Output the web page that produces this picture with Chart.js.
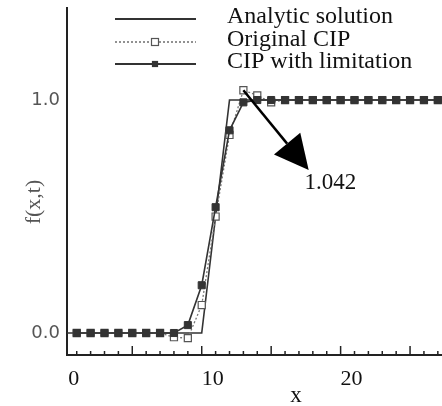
<!DOCTYPE html>
<html>
<head>
<meta charset="utf-8">
<script src="https://cdn.jsdelivr.net/npm/chart.js@4.4.1/dist/chart.umd.min.js"></script>
<style>
  html, body { margin: 0; padding: 0; background: #fff; }
  #wrap { width: 442px; height: 406px; }
</style>
</head>
<body>
<div id="wrap"><canvas id="chart"></canvas></div>
<script>
// grid positions (x)
const xs = [1, 2, 3, 4, 5, 6, 7, 8, 9, 10, 11, 12, 13, 14, 15, 16, 17, 18, 19, 20, 21, 22, 23, 24, 25, 26, 27];

const originalCIP = [0, 0, 0, 0, 0, 0, 0, -0.018, -0.022, 0.12, 0.50, 0.85, 1.042, 1.02, 0.99, 1, 1, 1, 1, 1, 1, 1, 1, 1, 1, 1, 1];
const limitedCIP = [0, 0, 0, 0, 0, 0, 0, 0, 0.034, 0.205, 0.54, 0.87, 0.99, 1, 1, 1, 1, 1, 1, 1, 1, 1, 1, 1, 1, 1, 1];

// analytic solution corners
const analyticX = [0, 10, 12, 28];
const analyticY = [0, 0, 1, 1];

const xTickLabels = [0, 10, 20];
const yTickLabels = [0, 1];

const seriesNames = ["Analytic solution", "Original CIP", "CIP with limitation"];

// arrow annotation pointing at the overshoot
const peakLabel = "1.042";
const arrowFrom = [13, 1.042];
const arrowTo = [17.7, 0.70];
const peakTextAt = [17.4, 0.643];

const toPts = (xx, yy) => xx.map((x, i) => ({x: x, y: yy[i]}));

const serif = "'Liberation Serif', 'Times New Roman', serif";

const extras = {
    id: 'extras',
    afterDraw: (chart) => {
        const {ctx, scales: {x, y}, chartArea} = chart;
        ctx.save();

        // inward ticks on the x axis
        ctx.strokeStyle = '#222';
        ctx.lineWidth = 1.5;
        for (let v = 1; v <= 27; v++) {
            const px = x.getPixelForValue(v);
            const len = v % 5 === 0 ? 9 : 4;
            ctx.beginPath();
            ctx.moveTo(px, chartArea.bottom);
            ctx.lineTo(px, chartArea.bottom - len);
            ctx.stroke();
        }

        // arrow
        const x1 = x.getPixelForValue(arrowFrom[0]), y1 = y.getPixelForValue(arrowFrom[1]);
        const x2 = x.getPixelForValue(arrowTo[0]), y2 = y.getPixelForValue(arrowTo[1]);
        const ang = Math.atan2(y2 - y1, x2 - x1);
        const headLen = 34, headW = 17;
        const bx = x2 - headLen * Math.cos(ang), by = y2 - headLen * Math.sin(ang);
        ctx.strokeStyle = '#000';
        ctx.lineWidth = 2.5;
        ctx.beginPath();
        ctx.moveTo(x1, y1);
        ctx.lineTo(bx, by);
        ctx.stroke();
        ctx.fillStyle = '#000';
        ctx.beginPath();
        ctx.moveTo(x2, y2);
        ctx.lineTo(bx + headW * Math.sin(ang), by - headW * Math.cos(ang));
        ctx.lineTo(bx - headW * Math.sin(ang), by + headW * Math.cos(ang));
        ctx.closePath();
        ctx.fill();

        ctx.font = '23px ' + serif;
        ctx.fillStyle = '#111';
        ctx.textAlign = 'left';
        ctx.textBaseline = 'middle';
        ctx.fillText(peakLabel, x.getPixelForValue(peakTextAt[0]), y.getPixelForValue(peakTextAt[1]));

        // legend
        const rows = [19, 42, 64];
        chart.data.datasets.forEach((ds, i) => {
            const yy = rows[i];
            ctx.strokeStyle = ds.borderColor;
            ctx.lineWidth = ds.borderWidth + 0.3;
            ctx.setLineDash(ds.borderDash || []);
            ctx.beginPath();
            ctx.moveTo(115, yy);
            ctx.lineTo(196, yy);
            ctx.stroke();
            ctx.setLineDash([]);
            if (ds.pointRadius > 0) {
                const s = i === 1 ? 7 : 5;
                ctx.fillStyle = ds.pointBackgroundColor;
                ctx.strokeStyle = ds.pointBorderColor;
                ctx.lineWidth = 1.2;
                ctx.fillRect(155 - s / 2, yy - s / 2, s, s);
                ctx.strokeRect(155 - s / 2, yy - s / 2, s, s);
            }
            ctx.fillStyle = '#111';
            ctx.font = '24px ' + serif;
            ctx.textAlign = 'left';
            ctx.textBaseline = 'middle';
            ctx.fillText(ds.label, 227, yy - 2);
        });

        // axis titles
        ctx.fillStyle = '#111';
        ctx.font = '23px ' + serif;
        ctx.textAlign = 'center';
        ctx.fillText('x', 296, 396);
        ctx.save();
        ctx.translate(34, 202);
        ctx.rotate(-Math.PI / 2);
        ctx.fillStyle = '#555';
        ctx.font = '22px ' + serif;
        ctx.fillText('f(x,t)', 0, 0);
        ctx.restore();

        ctx.restore();
    }
};

new Chart("chart", {
    type: "line",
    data: {
        datasets: [
            {
                label: seriesNames[0],
                data: toPts(analyticX, analyticY),
                borderColor: '#333',
                borderWidth: 1.6,
                pointRadius: 0,
                order: 2
            },
            {
                label: seriesNames[1],
                data: toPts(xs, originalCIP),
                borderColor: '#777',
                borderWidth: 1.3,
                borderDash: [2, 2],
                pointStyle: 'rect',
                pointRadius: 5,
                pointBackgroundColor: '#fff',
                pointBorderColor: '#555',
                pointBorderWidth: 1.2,
                order: 1
            },
            {
                label: seriesNames[2],
                data: toPts(xs, limitedCIP),
                borderColor: '#333',
                borderWidth: 1.6,
                pointStyle: 'rect',
                pointRadius: 5,
                pointBackgroundColor: '#333',
                pointBorderColor: '#333',
                pointBorderWidth: 1,
                order: 0
            }
        ]
    },
    options: {
        responsive: true,
        maintainAspectRatio: false,
        animation: false,
        layout: {autoPadding: false, padding: {top: 8, right: 0, left: 0, bottom: 0}},
        plugins: {
            legend: {display: false},
            tooltip: {enabled: false}
        },
        scales: {
            x: {
                type: 'linear',
                min: 0.3,
                max: 27.3,
                grid: {display: false, drawTicks: false},
                border: {display: true, color: '#222', width: 2},
                afterBuildTicks: (s) => { s.ticks = xTickLabels.map(v => ({value: v})); },
                afterFit: (s) => {
                    s.height = 51;
                    s.paddingLeft = 0;
                    s.paddingRight = 0;
                },
                ticks: {
                    color: '#111',
                    padding: 11,
                    labelOffset: 11,
                    maxRotation: 0,
                    font: {family: serif, size: 22}
                }
            },
            y: {
                type: 'linear',
                min: -0.0944,
                max: 1.395,
                grid: {display: false, drawTicks: false},
                border: {display: true, color: '#222', width: 2},
                afterBuildTicks: (s) => { s.ticks = yTickLabels.map(v => ({value: v})); },
                afterFit: (s) => {
                    s.width = 67;
                    s.paddingTop = 0;
                    s.paddingBottom = 0;
                },
                ticks: {
                    color: '#555',
                    padding: 7,
                    font: {family: "'DejaVu Sans', sans-serif", size: 18},
                    callback: (v) => Number(v).toFixed(1)
                }
            }
        }
    },
    plugins: [extras]
});
</script>
</body>
</html>
